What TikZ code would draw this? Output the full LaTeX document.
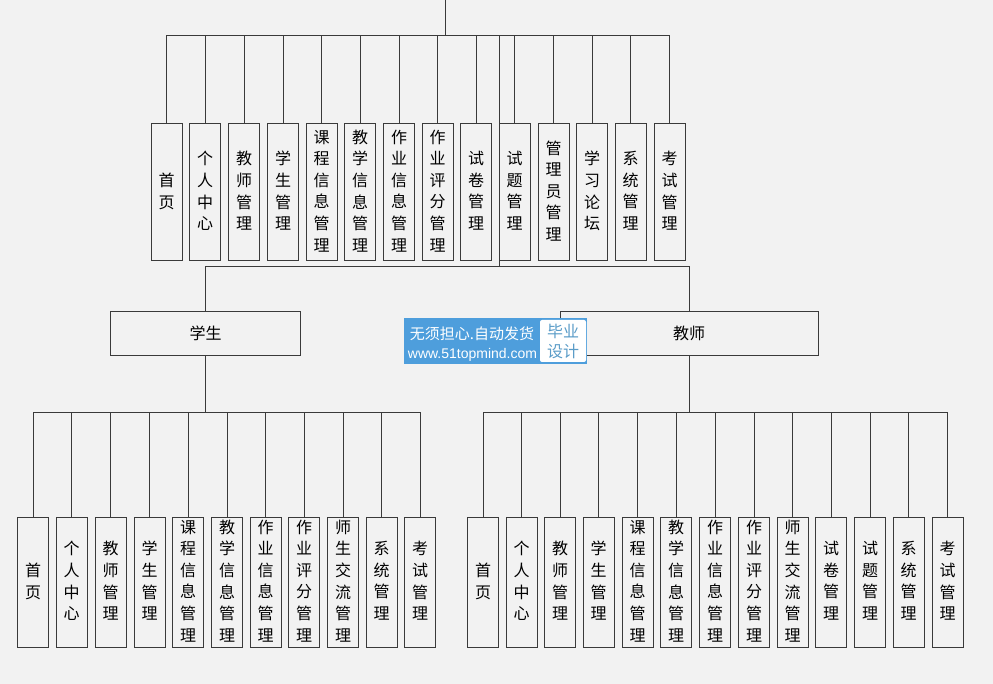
\documentclass[tikz,border=0pt]{standalone}
\usepackage{fontspec}
\setmainfont{Liberation Sans}
\newfontfamily\cjk{Noto Sans CJK SC}
\definecolor{bgc}{HTML}{F2F2F2}
\definecolor{ln}{HTML}{3A3A3A}
\definecolor{wm}{HTML}{4E9EDC}
\definecolor{wmt}{HTML}{5A9CC8}
\newcommand{\lifted}[1]{#1\\[-18.6pt]\mbox{}}
\tikzset{
  x=1pt,y=-1pt,
  conn/.style={draw=ln,line width=1pt},
  vbox/.style={draw=ln,line width=1pt,fill=bgc,minimum width=31pt,inner sep=0pt,align=center,font=\cjk\fontsize{16}{21.6}\selectfont},
  tallbox/.style={vbox,minimum height=137pt},
  lowbox/.style={vbox,minimum height=130pt},
  wide/.style={draw=ln,line width=1pt,fill=bgc,minimum height=44.5pt,inner sep=0pt,font=\cjk\fontsize{16}{18}\selectfont},
}
\begin{document}
\begin{tikzpicture}
\useasboundingbox[fill=bgc] (0,0) rectangle (993,684);
% top level
\coordinate (root) at (445.5,0);
\coordinate (topbus) at (445.5,36);
\coordinate (midstart) at (499.5,36);
\coordinate (midbus) at (499.5,267);
\draw[conn] (root) -- (topbus);
\foreach \n/\cx/\t in {a1/166.5/首\\页,a2/205/个\\人\\中\\心,a3/244/教\\师\\管\\理,a4/283/学\\生\\管\\理,a5/321.5/课\\程\\信\\息\\管\\理,a6/360/教\\学\\信\\息\\管\\理,a7/399/作\\业\\信\\息\\管\\理,a8/437.5/作\\业\\评\\分\\管\\理,a9/476/试\\卷\\管\\理,a10/514.5/试\\题\\管\\理,a11/553.5/管\\理\\员\\管\\理,a12/592/学\\习\\论\\坛,a13/630.5/系\\统\\管\\理,a14/669.5/考\\试\\管\\理}{
  \node[tallbox] (\n) at (\cx,192) {\lifted{\t}};
  \draw[conn] (topbus) -| (\n.north);
}
\draw[conn] (midstart) -- (midbus);
% second level
\node[wide,minimum width=190pt] (stu) at (205.5,333.7) {学生};
\node[wide,minimum width=258pt] (tea) at (689,333.7) {教师};
\draw[conn] (midbus) -| (stu.north);
\draw[conn] (midbus) -| (tea.north);
% student branch
\coordinate (sbus) at (205.5,412.5);
\draw[conn] (stu.south) -- (sbus);
\foreach \n/\cx/\t in {s1/33/首\\页,s2/71.5/个\\人\\中\\心,s3/110.5/教\\师\\管\\理,s4/149.5/学\\生\\管\\理,s5/188/课\\程\\信\\息\\管\\理,s6/227/教\\学\\信\\息\\管\\理,s7/265.5/作\\业\\信\\息\\管\\理,s8/304/作\\业\\评\\分\\管\\理,s9/343/师\\生\\交\\流\\管\\理,s10/381.5/系\\统\\管\\理,s11/420/考\\试\\管\\理}{
  \node[lowbox] (\n) at (\cx,582) {\lifted{\t}};
  \draw[conn] (sbus) -| (\n.north);
}
% teacher branch
\coordinate (tbus) at (689,412.5);
\draw[conn] (tea.south) -- (tbus);
\foreach \n/\cx/\t in {t1/483/首\\页,t2/521.5/个\\人\\中\\心,t3/560/教\\师\\管\\理,t4/598.5/学\\生\\管\\理,t5/637.5/课\\程\\信\\息\\管\\理,t6/676/教\\学\\信\\息\\管\\理,t7/715/作\\业\\信\\息\\管\\理,t8/754/作\\业\\评\\分\\管\\理,t9/792.5/师\\生\\交\\流\\管\\理,t10/831/试\\卷\\管\\理,t11/870/试\\题\\管\\理,t12/908.5/系\\统\\管\\理,t13/947.5/考\\试\\管\\理}{
  \node[lowbox] (\n) at (\cx,582) {\lifted{\t}};
  \draw[conn] (tbus) -| (\n.north);
}
% watermark
\node[fill=wm,minimum width=183pt,minimum height=46pt,inner sep=0pt] (wmbg) at (495.5,341) {};
\node[fill=white,rounded corners=2pt,minimum width=46pt,minimum height=42pt,inner sep=0pt,text=wmt,align=center,font=\cjk\fontsize{16}{20}\selectfont] (wmr) at (563,341) {毕业\\设计};
\node[text=white,inner sep=0pt,font=\cjk\fontsize{15}{16}\selectfont] (wm1) at (472,333.5) {无须担心.自动发货};
\node[text=white,inner sep=0pt,font=\fontsize{14}{15}\selectfont] (wm2) at (472.5,355) {www.51topmind.com};
\end{tikzpicture}
\end{document}
